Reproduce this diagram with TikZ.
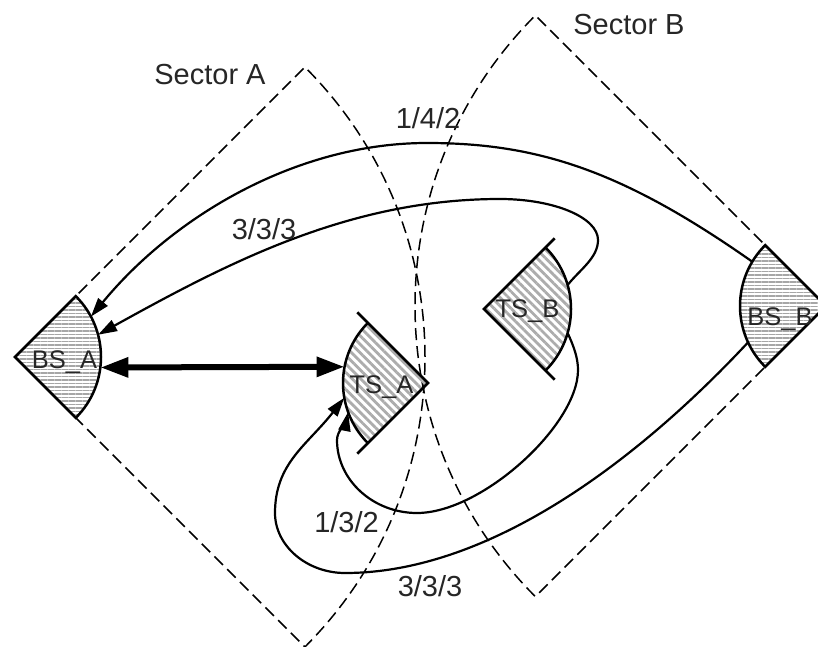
\documentclass[tikz,border=0pt]{standalone}
\usepackage{fontspec}
\setmainfont{Liberation Sans}
\usetikzlibrary{arrows.meta,patterns.meta}
\begin{document}
\begin{tikzpicture}[x=1pt,y=1pt,
  sectorline/.style={line width=1.5pt, dash pattern=on 12pt off 6pt},
  conn/.style={line width=2.2pt, -{Triangle[length=19pt,width=12pt]}},
  lbl/.style={font=\fontsize{29}{32}\selectfont, anchor=base, inner sep=0pt, text=black!85},
  slbl/.style={font=\fontsize{25.5}{28}\selectfont, anchor=base, inner sep=0pt, text=black!85},
  bsfill/.style={pattern={Lines[angle=0,distance=3.5pt,line width=1.6pt]}, pattern color=gray!70},
  tsfill/.style={pattern={Lines[angle=-45,distance=6pt,line width=2.8pt]}, pattern color=gray!65},
  rim/.style={line width=2.5pt}]
\useasboundingbox (0,0) rectangle (818,646);
\clip (0,0) rectangle (818,646);
% apexes
\coordinate (SA) at (15,289);
\coordinate (SB) at (826,340);
\coordinate (TA) at (428,263);
\coordinate (TB) at (484,337);
% sectors
\draw[sectorline] (SA) -- ++(45:410) arc[start angle=45,end angle=-45,radius=410] -- cycle;
\draw[sectorline] (SB) -- ++(135:411) arc[start angle=135,end angle=225,radius=411] -- cycle;
% base stations
\draw[rim,bsfill] (SA) -- ++(45:86) arc[start angle=45,end angle=-45,radius=86] -- cycle;
\draw[rim,bsfill] (SB) -- ++(135:86) arc[start angle=135,end angle=225,radius=86] -- cycle;
% terminal stations
\path[tsfill] (TA) -- ++(135:85) arc[start angle=135,end angle=225,radius=85] -- cycle;
\coordinate (TAt) at ([shift={(135:100)}]TA);
\coordinate (TAb) at ([shift={(225:100)}]TA);
\draw[rim] (TAt) -- (TA) -- (TAb);
\draw[rim] ([shift={(135:85)}]TA) arc[start angle=135,end angle=225,radius=85];
\path[tsfill] (TB) -- ++(45:87) arc[start angle=45,end angle=-45,radius=87] -- cycle;
\coordinate (TBt) at ([shift={(45:100)}]TB);
\coordinate (TBb) at ([shift={(-45:100)}]TB);
\draw[rim] (TBt) -- (TB) -- (TBb);
\draw[rim] ([shift={(45:87)}]TB) arc[start angle=45,end angle=-45,radius=87];
% connection points
\coordinate (bsa1) at ([shift={(28:86)}]SA);
\coordinate (bsa2) at ([shift={(15:86)}]SA);
\coordinate (bsa3) at ([shift={(-7:86)}]SA);
\coordinate (bsb1) at ([shift={(149:86)}]SB);
\coordinate (bsb2) at ([shift={(205:86)}]SB);
\coordinate (tsa1) at ([shift={(169:85)}]TA);
\coordinate (tsa2) at ([shift={(190:85)}]TA);
\coordinate (tsa3) at ([shift={(200:85)}]TA);
\coordinate (tsb1) at ([shift={(16:87)}]TB);
\coordinate (tsb2) at ([shift={(-16:87)}]TB);
% connectors
\draw[line width=6pt, {Triangle[length=28pt,width=19pt]}-{Triangle[length=28pt,width=19pt]}] (bsa3) -- (tsa1);
\draw[conn] (bsb1) .. controls (622,475.8) and (537,503) .. (427,503)
  .. controls (297,503) and (173.8,430) .. (bsa1);
\draw[conn] (tsb1) .. controls (579.8,376.4) and (598,388) .. (598,406)
  .. controls (598,428.5) and (554,447) .. (500,447)
  .. controls (350,447) and (229,383.8) .. (bsa2);
\draw[conn] (tsb2) .. controls (573.9,299.4) and (578,288) .. (578,276)
  .. controls (578,221) and (482,133) .. (417,133)
  .. controls (373,133) and (337,166) .. (337,206)
  .. controls (337,215) and (346.2,224.3) .. (tsa3);
\draw[conn] (bsb2) .. controls (645.8,194) and (495,73) .. (345,73)
  .. controls (307,73) and (275,100) .. (275,133)
  .. controls (275,183) and (307.3,200.9) .. (tsa2);
% labels
\node[lbl] (secA) at (210,561) {Sector A};
\node[lbl] (secB) at (629,611) {Sector B};
\node[lbl] (l142) at (428,517) {1/4/2};
\node[lbl] (l333a) at (264,406) {3/3/3};
\node[lbl] (l132) at (346.5,114) {1/3/2};
\node[lbl] (l333b) at (430,50) {3/3/3};
\node[slbl] (tsaL) at (381.5,253) {TS\_A};
\node[slbl] (tsbL) at (527.5,329) {TS\_B};
\node[slbl] (bsaL) at (64.5,278) {BS\_A};
\node[slbl] (bsbL) at (780,321) {BS\_B};
\end{tikzpicture}
\end{document}
